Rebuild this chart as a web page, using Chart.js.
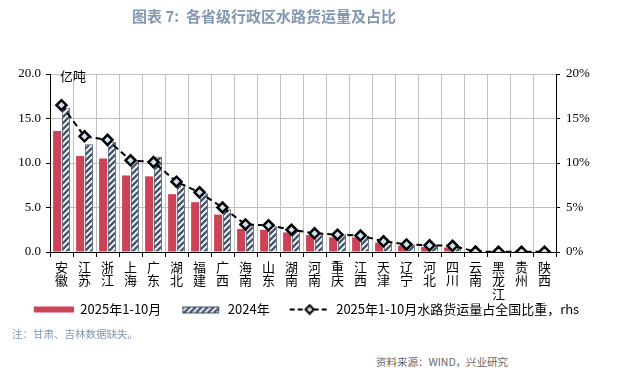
<!DOCTYPE html>
<html><head><meta charset="utf-8">
<script src="https://cdn.jsdelivr.net/npm/chart.js@4"></script>
<style>
html,body{margin:0;padding:0;background:#fff;}
#wrap{position:relative;width:618px;height:378px;background:#fff;overflow:hidden;}
#title{position:absolute;left:132px;top:5px;font:bold 15px "Noto Sans CJK SC";color:#8497b0;white-space:pre;}
#unit{position:absolute;left:60px;top:66px;font:13px "Noto Sans CJK SC";color:#000;}
#note{position:absolute;left:12px;top:326px;font:10.5px "Noto Sans CJK SC";color:#8497b0;}
#src{position:absolute;left:376px;top:354px;font:10.5px "Noto Sans CJK SC";color:#666;}
canvas{position:absolute;left:0;top:0;}
</style></head>
<body><div id="wrap">
<canvas id="c" width="618" height="330" style="width:618px;height:330px"></canvas>
<div id="title">图表 7:  各省级行政区水路货运量及占比</div>
<div id="unit">亿吨</div>
<div id="note">注：甘肃、吉林数据缺失。</div>
<div id="src">资料来源：WIND，兴业研究</div>
</div>
<script>
const categories = [['安','徽'],['江','苏'],['浙','江'],['上','海'],['广','东'],['湖','北'],['福','建'],['广','西'],['海','南'],['山','东'],['湖','南'],['河','南'],['重','庆'],['江','西'],['天','津'],['辽','宁'],['河','北'],['四','川'],['云','南'],['黑','龙','江'],['贵','州'],['陕','西']];
const seriesNames = ['2025年1-10月','2024年','2025年1-10月水路货运量占全国比重，rhs'];
const vol2025 = [13.6,10.8,10.5,8.6,8.5,6.5,5.6,4.2,2.6,2.5,2.2,1.9,1.65,1.65,1.05,0.72,0.56,0.5,0.05,0.02,0.02,0.02];
const vol2024 = [16.2,12.1,12.4,10.3,10.7,7.6,6.6,4.8,3.0,2.9,2.5,2.1,2.0,1.85,1.2,0.85,0.7,0.65,0.06,0.03,0.03,0.03];
const share2025 = [16.5,13.0,12.6,10.3,10.1,7.9,6.7,5.0,3.1,3.0,2.5,2.1,1.95,1.85,1.2,0.85,0.75,0.7,0.05,0.03,0.03,0.03];
const leftTicks = [0,5,10,15,20];
const rightTicks = [0,5,10,15,20];

const RED = '#cc4257', NAVY = '#44546a';
function makePattern(){
  const p = document.createElement('canvas'); p.width = 6; p.height = 6;
  const g = p.getContext('2d');
  g.fillStyle = '#fff'; g.fillRect(0,0,6,6);
  g.strokeStyle = NAVY; g.lineWidth = 2.4;
  g.beginPath();
  g.moveTo(-1,7); g.lineTo(7,-1);
  g.moveTo(-4,4); g.lineTo(4,-4);
  g.moveTo(2,10); g.lineTo(10,2);
  g.stroke();
  return document.getElementById('c').getContext('2d').createPattern(p,'repeat');
}
const hatch = makePattern();
const GAP = 17, IW = 40;
function legendIcon(kind){
  const c = document.createElement('canvas'); c.width = GAP + IW; c.height = 12;
  const g = c.getContext('2d');
  g.translate(GAP, 0);
  if (kind === 0){ g.fillStyle = RED; g.fillRect(0,3,40,6); }
  else if (kind === 1){
    g.fillStyle = hatch; g.fillRect(1,3,37,6);
    g.strokeStyle = NAVY; g.lineWidth = 1; g.strokeRect(1.5,3.5,36,6);
  } else {
    g.strokeStyle = '#000'; g.lineWidth = 2; g.setLineDash([5,3]);
    g.beginPath(); g.moveTo(0,6); g.lineTo(40,6); g.stroke();
    g.setLineDash([]);
    g.save(); g.translate(20,6); g.rotate(Math.PI/4);
    g.fillStyle = '#cfe2f3'; g.fillRect(-3,-3,6,6);
    g.lineWidth = 2; g.strokeRect(-3,-3,6,6); g.restore();
  }
  return c;
}
const icons = [legendIcon(0), legendIcon(1), legendIcon(2)];

const legendShift = {
  id: 'legendShift',
  afterLayout(chart){ const l = chart.legend; if (l){ l.left -= 11; l.right -= 11; } }
};

new Chart(document.getElementById('c'), {
  type: 'bar',
  plugins: [legendShift],
  data: {
    labels: categories,
    datasets: [
      {label: seriesNames[0], data: vol2025, backgroundColor: RED, borderWidth: 0, yAxisID: 'y', order: 2,
       categoryPercentage: 0.76, barPercentage: 0.92},
      {label: seriesNames[1], data: vol2024, backgroundColor: hatch, borderColor: NAVY, borderWidth: 1, yAxisID: 'y', order: 2,
       categoryPercentage: 0.76, barPercentage: 0.92},
      {type: 'line', label: seriesNames[2], data: share2025, yAxisID: 'y1', order: 0,
       borderColor: '#000', borderWidth: 2, borderDash: [6,4], tension: 0,
       pointStyle: 'rectRot', pointRadius: 5, pointBorderWidth: 2.5, pointBorderColor: '#000', pointBackgroundColor: '#cfe2f3'}
    ]
  },
  options: {
    responsive: false, animation: false, devicePixelRatio: 1,
    layout: {padding: {top: 74, bottom: 4, left: 0, right: 0}},
    plugins: {
      tooltip: {enabled: false},
      legend: {
        position: 'bottom',
        labels: {
          usePointStyle: true, pointStyleWidth: GAP + IW, padding: 3, color: '#000',
          font: {family: '"Noto Sans CJK SC"', size: 13},
          generateLabels: (chart) => chart.data.datasets.map((d, i) => ({
            text: d.label, pointStyle: icons[i], fillStyle: 'transparent', strokeStyle: 'transparent',
            lineWidth: 0, datasetIndex: i, hidden: false, fontColor: '#000'
          }))
        }
      }
    },
    scales: {
      x: {
        grid: {offset: true, color: '#c0c0c0', lineWidth: 1, tickColor: '#000', tickLength: 5, drawTicks: true},
        border: {color: '#000', width: 1},
        ticks: {color: '#000', padding: 3, maxRotation: 0, autoSkip: false,
          font: {family: '"Noto Sans CJK SC"', size: 13, lineHeight: 1.05}},
        afterFit: (s) => { s.height = 48; }
      },
      y: {
        position: 'left', min: 0, max: 20,
        afterBuildTicks: (s) => { s.ticks = leftTicks.map(v => ({value: v})); },
        grid: {color: '#c0c0c0', lineWidth: 1, tickColor: '#000', tickLength: 4},
        border: {color: '#000', width: 1},
        ticks: {color: '#000', padding: 5, font: {family: '"Liberation Serif"', size: 13},
          callback: (v) => Number(v).toFixed(1)},
        afterFit: (s) => { s.width = 50; }
      },
      y1: {
        position: 'right', min: 0, max: 20,
        afterBuildTicks: (s) => { s.ticks = rightTicks.map(v => ({value: v})); },
        grid: {drawOnChartArea: false, tickColor: '#000', tickLength: 4},
        border: {color: '#000', width: 1},
        ticks: {color: '#000', padding: 6, font: {family: '"Liberation Serif"', size: 13},
          callback: (v) => v + '%'},
        afterFit: (s) => { s.width = 62; }
      }
    }
  }
});
</script>
</body></html>
